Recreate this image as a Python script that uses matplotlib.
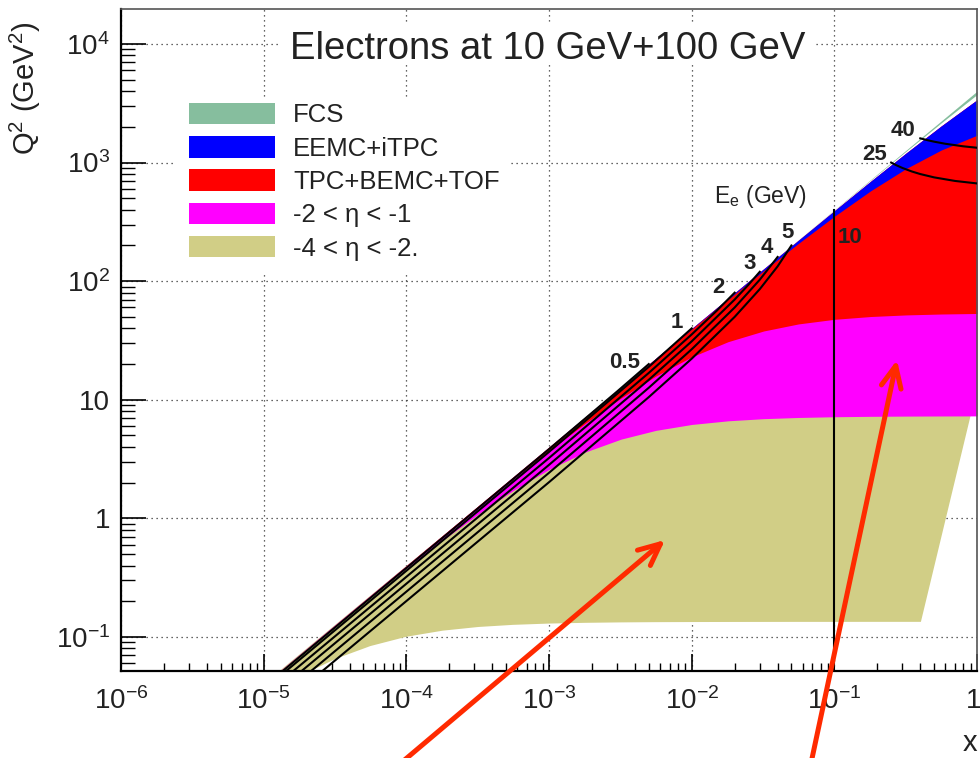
import numpy as np
import matplotlib.pyplot as plt
from matplotlib.patches import Patch, Rectangle, FancyArrowPatch
from matplotlib.ticker import LogLocator, NullFormatter
from matplotlib.transforms import ScaledTranslation

plt.rcParams['font.family'] = ['Liberation Sans', 'DejaVu Sans']
plt.rcParams['mathtext.fontset'] = 'custom'
plt.rcParams['mathtext.rm'] = 'Liberation Sans'
plt.rcParams['mathtext.it'] = 'Liberation Sans:italic'
plt.rcParams['mathtext.bf'] = 'Liberation Sans:bold'

# boundaries of the acceptance bands (x, Q^2 in GeV^2)
x_pts = [1e-5, 1.8e-5, 3.2e-5, 5.6e-5, 1e-4, 1.8e-4, 3.2e-4, 5.6e-4, 1e-3, 1.8e-3,
         3.2e-3, 5.6e-3, 0.01, 0.018, 0.032, 0.056, 0.1, 0.18, 0.32, 0.56, 1.0]
q2_top = [0.04, 0.072, 0.128, 0.224, 0.4, 0.72, 1.28, 2.24, 4.0, 7.2,
          12.8, 22.4, 40, 72, 128, 224, 400, 720, 1280, 2240, 4000]
q2_eta_p25 = [0.04, 0.072, 0.128, 0.224, 0.4, 0.72, 1.28, 2.24, 4.0, 7.2,
              12.8, 22.4, 39.97, 71.91, 127.7, 223.2, 397.3, 711.4, 1253, 2158, 3747]
q2_eta_p2 = [0.04, 0.072, 0.128, 0.224, 0.4, 0.72, 1.28, 2.24, 4.0, 7.2,
             12.8, 22.38, 39.93, 71.76, 127.3, 221.7, 392.8, 697.0, 1209, 2032, 3381]
q2_eta_p1 = [0.04, 0.072, 0.128, 0.224, 0.4, 0.72, 1.28, 2.238, 3.995, 7.183,
             12.74, 22.23, 39.47, 70.29, 122.7, 208.2, 352.3, 579.0, 893.2, 1274, 1700]
q2_eta_m1 = [0.04, 0.0719, 0.1277, 0.2231, 0.397, 0.7105, 1.250, 2.151, 3.725, 6.355,
             10.35, 15.84, 23.0, 30.9, 38.04, 43.6, 47.68, 50.35, 51.94, 52.85, 53.41]
q2_eta_m2 = [0.0398, 0.0713, 0.1258, 0.2174, 0.3793, 0.6556, 1.090, 1.716, 2.587, 3.631,
             4.660, 5.520, 6.192, 6.648, 6.930, 7.093, 7.194, 7.252, 7.285, 7.302, 7.313]
q2_eta_m4 = [0.0308, 0.0469, 0.0655, 0.0839, 0.1005, 0.1131, 0.1215, 0.1266, 0.1298, 0.1317,
             0.1328, 0.1334, 0.1337, 0.1339, 0.1340, 0.1341, 0.1341, 0.1342, 0.1342]
# right edge of the -4<eta<-2 band
khaki_edge_x = [0.9, 0.404]
khaki_edge_q2 = [7.31, 0.1342]

# lines of constant scattered electron energy
ee_lines = {
    '0.5': ([1e-5, 1e-3, 3e-3, 5e-3], [0.038, 3.838, 11.75, 20.0]),
    '1': ([1e-5, 1e-3, 5e-3, 0.01], [0.036, 3.636, 18.95, 40.0]),
    '2': ([1e-5, 1e-3, 5e-3, 0.01, 0.015, 0.02], [0.032, 3.232, 16.84, 35.56, 56.47, 80.0]),
    '3': ([1e-5, 1e-3, 5e-3, 0.01, 0.02, 0.025, 0.03], [0.028, 2.828, 14.74, 31.11, 70.0, 93.33, 120.0]),
    '4': ([1e-5, 1e-3, 5e-3, 0.01, 0.02, 0.03, 0.04], [0.024, 2.424, 12.63, 26.67, 60.0, 102.9, 160.0]),
    '5': ([1e-5, 1e-3, 5e-3, 0.01, 0.02, 0.03, 0.04, 0.05], [0.020, 2.020, 10.53, 22.22, 50.0, 85.71, 133.3, 200.0]),
    '10': ([0.1, 0.1], [0.03, 400]),
    '25': ([0.25, 0.27, 0.3, 0.35, 0.4, 0.5, 0.7, 1.0], [1000, 952.9, 900, 840, 800, 750, 700, 666.7]),
    '40': ([0.4, 0.45, 0.5, 0.6, 0.8, 1.0], [1600, 1543, 1500, 1440, 1371, 1333]),
}
label_pos = {
    '0.5': (3.4e-3, 20.8), '1': (7.8e-3, 44.5), '2': (0.0153, 87.7), '3': (0.0256, 140),
    '4': (0.0337, 194), '5': (0.0466, 255), '10': (0.1288, 233.7), '25': (0.1927, 1170),
    '40': (0.3029, 1865),
}

labels = ['FCS', 'EEMC+iTPC', 'TPC+BEMC+TOF', '-2 < η < -1', '-4 < η < -2.']
colors = ['#86BE9E', '#0000FF', '#FF0000', '#FF00FF', '#D1CE86']

x = np.array(x_pts)

fig = plt.figure(figsize=(9.8, 7.58), dpi=100)
ax = fig.add_axes([0.1235, 0.1148, 0.8735, 0.8734])
ax.set_xscale('log')
ax.set_yscale('log')
ax.set_xlim(1e-6, 1)
ax.set_ylim(0.0517, 1.973e4)

# khaki band: upper side follows eta=-1 (hidden under magenta) to avoid seams
kx = np.concatenate([x[:20], khaki_edge_x, x[18::-1]])
ky = np.concatenate([q2_eta_m1[:20], khaki_edge_q2, q2_eta_m4[18::-1]])
ax.fill(kx, ky, color=colors[4], lw=0, zorder=2)
ax.fill_between(x, q2_eta_m2, q2_eta_p2, color=colors[3], lw=0, zorder=2)
ax.fill_between(x, q2_eta_m1, q2_eta_p2, color=colors[2], lw=0, zorder=2)
ax.fill_between(x, q2_eta_p1, q2_eta_p2, color=colors[1], lw=0, zorder=2)
ax.fill_between(x, q2_eta_p25, q2_top, color=colors[0], lw=0, zorder=2)

for name, (lx, ly) in ee_lines.items():
    ax.plot(lx, ly, color='black', lw=1.5, zorder=3)
    px, py = label_pos[name]
    ax.text(px, py, name, fontsize=16, fontweight='bold', color='#222222',
            ha='center', va='center', zorder=4)
ax.text(0.0301, 513, r'E$_{\rm e}$ (GeV)', fontsize=16.5, color='#222222',
        ha='center', va='center', zorder=4)

# axes styling
ax.set_axisbelow(True)
ax.grid(True, which='major', color='#333333', lw=0.9, linestyle=(0, (1, 3)))
ax.set_xticks([1e-6, 1e-5, 1e-4, 1e-3, 1e-2, 1e-1, 1],
              [r'$10^{-6}$', r'$10^{-5}$', r'$10^{-4}$', r'$10^{-3}$', r'$10^{-2}$', r'$10^{-1}$', '1'])
ax.set_yticks([0.1, 1, 10, 100, 1000, 10000],
              [r'$10^{-1}$', '1', '10', r'$10^{2}$', r'$10^{3}$', r'$10^{4}$'])
ax.xaxis.set_minor_locator(LogLocator(base=10, subs=np.arange(2, 10), numticks=100))
ax.yaxis.set_minor_locator(LogLocator(base=10, subs=np.arange(2, 10), numticks=100))
ax.xaxis.set_minor_formatter(NullFormatter())
ax.yaxis.set_minor_formatter(NullFormatter())
ax.tick_params(which='both', direction='in', top=False, right=False, labelsize=20,
               labelcolor='#222222')
ax.tick_params(axis='x', which='major', length=12, width=1.2, pad=12)
ax.tick_params(axis='x', which='minor', length=6, width=1.0)
ax.tick_params(axis='y', which='major', length=18, width=1.2, pad=8)
ax.tick_params(axis='y', which='minor', length=10, width=1.0)
for s in ['left', 'bottom']:
    ax.spines[s].set_linewidth(1.6)
for s in ['top', 'right']:
    ax.spines[s].set_linewidth(1.2)
    ax.spines[s].set_color('#555555')

# keep the "1" at the right end inside the figure
last = ax.get_xticklabels()[-1]
last.set_horizontalalignment('right')
last.set_transform(last.get_transform() + ScaledTranslation(3 / 72, 0, fig.dpi_scale_trans))

# white boxes behind title and legend (they hide the grid)
ax.add_patch(Rectangle((0.063, 0.601), 0.389, 0.266, transform=ax.transAxes,
                       fc='white', ec='none', zorder=1))
ax.add_patch(Rectangle((0.1834, 0.9154), 0.625, 0.0635, transform=ax.transAxes,
                       fc='white', ec='none', zorder=1))
ax.text(0.1974, 0.9245, 'Electrons at 10 GeV+100 GeV', transform=ax.transAxes,
        fontsize=27.5, color='#222222', ha='left', va='baseline', zorder=5)

handles = [Patch(facecolor=c, edgecolor='none') for c in colors]
ax.legend(handles, labels, loc='upper left', bbox_to_anchor=(0.0794, 0.858),
          frameon=False, fontsize=18.5, handlelength=3.35, handleheight=0.9,
          handletextpad=0.7, labelspacing=0.34, borderpad=0, borderaxespad=0,
          labelcolor='#222222')

fig.text(25 / 980, 1 - 88 / 758, r'Q$^2$ (GeV$^2$)', rotation=90, ha='center',
         va='center', fontsize=21, color='#222222')
fig.text(977 / 980, 1 - 743 / 758, 'x', ha='right', va='center', fontsize=21,
         color='#222222')

# red arrows pointing into the bands
for tail, tip in [((0.4031, -0.0132), (0.6786, 0.2876)),
                  ((0.8265, -0.0132), (0.9153, 0.5251))]:
    arr = FancyArrowPatch(tail, tip, transform=fig.transFigure,
                          arrowstyle='->,head_length=0.78,head_width=0.36',
                          mutation_scale=20, lw=3.6, color='#FF2A00',
                          shrinkA=0, shrinkB=0, zorder=10)
    fig.add_artist(arr)

fig.savefig('out.png', dpi=100)
